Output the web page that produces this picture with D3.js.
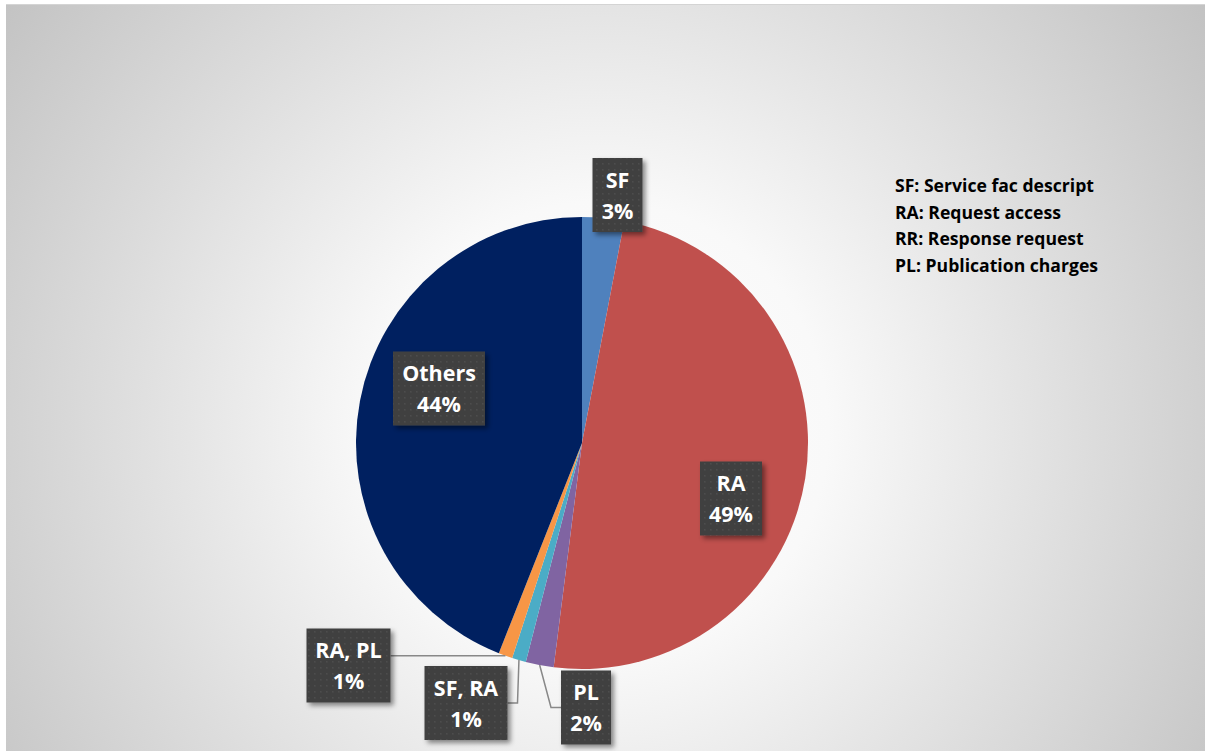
<!DOCTYPE html>
<html>
<head>
<meta charset="utf-8">
<script src="https://cdn.jsdelivr.net/npm/d3@7/dist/d3.min.js"></script>
<style>
  html, body { margin: 0; padding: 0; background: #ffffff; }
  svg { display: block; }
</style>
</head>
<body>
<svg id="chart" width="1205" height="751"></svg>
<script>
// Share of request types
const categories = ["SF", "RA", "PL", "SF, RA", "RA, PL", "Others"];
const shares = [3, 49, 2, 1, 1, 44];
const sliceColors = ["#4F81BD", "#C0504D", "#8064A2", "#4BACC6", "#F79646", "#002060"];
const legendLines = [
  "SF: Service fac descript",
  "RA: Request access",
  "RR: Response request",
  "PL: Publication charges"
];

// Label box centres, relative to the pie centre (layout only)
const labelOffsets = [
  [35.5, -248], [149, 55.5], [4, 264.5], [-116, 260], [-233.5, 222.5], [-143, -54.5]
];

const W = 1205, H = 751;
const cx = 582, cy = 443, R = 226;
const svg = d3.select("#chart");
const defs = svg.append("defs");

// Background: soft radial gradient
const bg = defs.append("radialGradient").attr("id", "bgGrad")
  .attr("gradientUnits", "userSpaceOnUse")
  .attr("cx", 600).attr("cy", 430).attr("r", 760);
bg.append("stop").attr("offset", 0).attr("stop-color", "#ffffff");
bg.append("stop").attr("offset", 0.3).attr("stop-color", "#f9f9f9");
bg.append("stop").attr("offset", 0.65).attr("stop-color", "#dcdcdc");
bg.append("stop").attr("offset", 1).attr("stop-color", "#c0c0c0");

// Dotted texture for the label boxes
const pat = defs.append("pattern").attr("id", "dots")
  .attr("patternUnits", "userSpaceOnUse").attr("width", 6).attr("height", 6);
pat.append("rect").attr("width", 6).attr("height", 6).attr("fill", "#404040");
pat.append("rect").attr("x", 2).attr("y", 2).attr("width", 1.5).attr("height", 1.5).attr("fill", "#4e4e4e");

const shadow = defs.append("filter").attr("id", "shadow")
  .attr("x", "-30%").attr("y", "-30%").attr("width", "160%").attr("height", "160%");
shadow.append("feDropShadow").attr("dx", 3).attr("dy", 3).attr("stdDeviation", 2.5)
  .attr("flood-color", "#000").attr("flood-opacity", 0.45);

svg.append("rect").attr("x", 6).attr("y", 4).attr("width", W - 6).attr("height", H - 4)
  .attr("fill", "url(#bgGrad)");
svg.append("line").attr("x1", 6).attr("x2", W).attr("y1", 4.5).attr("y2", 4.5)
  .attr("stroke", "#d4d4d4").attr("stroke-width", 1);

// Pie
const pie = d3.pie().sort(null).value(d => d.value);
const data = categories.map((c, i) => ({ name: c, value: shares[i], color: sliceColors[i], off: labelOffsets[i] }));
const arcs = pie(data);
const arc = d3.arc().innerRadius(0).outerRadius(R);

const g = svg.append("g").attr("transform", `translate(${cx},${cy})`);
g.selectAll("path.slice").data(arcs).enter().append("path")
  .attr("class", "slice")
  .attr("d", arc)
  .attr("fill", d => d.data.color);

// Labels
const font = "'Open Sans', Lato, sans-serif";
const lab = g.selectAll("g.lab").data(arcs).enter().append("g").attr("class", "lab");

lab.each(function(d) {
  const sel = d3.select(this);
  const [ox, oy] = d.data.off;
  const t = sel.append("text")
    .attr("font-family", font).attr("font-weight", 700).attr("font-size", 21.5)
    .attr("fill", "#ffffff").attr("text-anchor", "middle");
  t.append("tspan").attr("x", ox).attr("y", oy - 7.5).text(d.data.name);
  t.append("tspan").attr("x", ox).attr("y", oy + 23.5).text(d3.format(".0%")(d.data.value / 100));
  const tw = t.node().getBBox().width;
  const bw = Math.round(tw + 18), bh = 74;
  const bx = ox - bw / 2, by = oy - bh / 2;
  sel.insert("rect", "text")
    .attr("x", bx).attr("y", by).attr("width", bw).attr("height", bh)
    .attr("fill", "url(#dots)").attr("filter", "url(#shadow)");

  // Leader line for labels placed outside the pie
  const mid = (d.startAngle + d.endAngle) / 2;
  const px = R * Math.sin(mid), py = -R * Math.cos(mid);
  const dist = Math.hypot(ox, oy) - Math.max(bw, bh) / 2;
  if (dist > R) {
    const leftSide = px < ox;
    const ex = leftSide ? bx : bx + bw;
    let pts;
    if (py >= by && py <= by + bh) {
      pts = [[ex, py], [px, py]];
    } else {
      const step = leftSide ? -10 : 10;
      pts = [[ex, oy], [ex + step, oy], [px, py]];
    }
    sel.insert("path", "rect")
      .attr("d", d3.line()(pts))
      .attr("fill", "none").attr("stroke", "#888888").attr("stroke-width", 1.5);
  }
});

// Abbreviation key
svg.append("g").selectAll("text").data(legendLines).enter().append("text")
  .attr("x", 895).attr("y", (d, i) => 192.3 + i * 26.5)
  .attr("font-family", font).attr("font-weight", 700).attr("font-size", 17.6)
  .attr("fill", "#000000")
  .text(d => d);
</script>
</body>
</html>
